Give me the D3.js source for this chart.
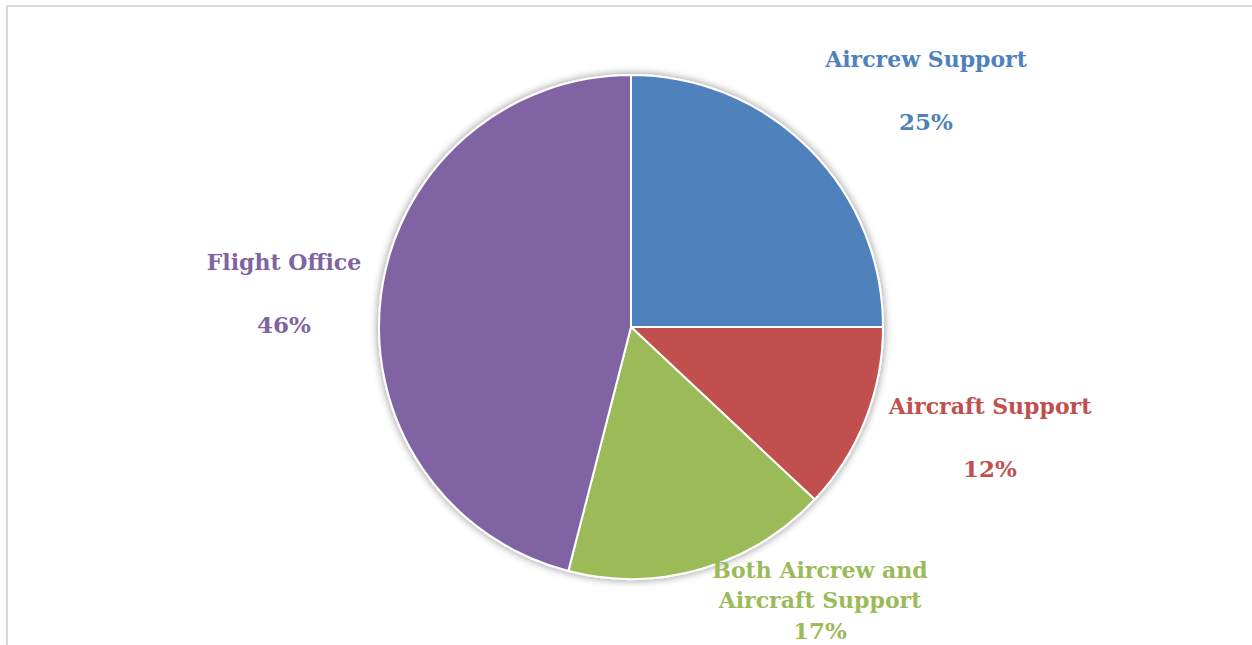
<!DOCTYPE html>
<html>
<head>
<meta charset="utf-8">
<script src="https://cdn.jsdelivr.net/npm/d3@7"></script>
<style>
  html, body { margin: 0; padding: 0; background: #fff; }
  svg { display: block; }
</style>
</head>
<body>
<svg id="chart" width="1252" height="645"></svg>
<script>
// Share of responses by support category
const categories = ["Aircrew Support", "Aircraft Support", "Both Aircrew and Aircraft Support", "Flight Office"];
const shares = [25, 12, 17, 46];
const colors = ["#4F81BD", "#C0504D", "#9BBB59", "#8064A2"];

// Label layout: text lines and their offsets from the pie centre
const labelLines = [["Aircrew Support"], ["Aircraft Support"], ["Both Aircrew and", "Aircraft Support"], ["Flight Office"]];
const labelAnchors = [[295, -260], [359, 87], [189, 251], [-347, -57]];
const pctGap = [63, 63, 31, 63];

const W = 1252, H = 645;
const cx = 631, cy = 327, R = 252;

const svg = d3.select("#chart");

// Chart-area frame (top and left edges visible)
svg.append("path")
  .attr("d", `M7,${H} L7,6 L${W},6`)
  .attr("fill", "none")
  .attr("stroke", "#d9d9d9")
  .attr("stroke-width", 2);

const defs = svg.append("defs");
const f = defs.append("filter").attr("id", "glow")
  .attr("x", "-20%").attr("y", "-20%").attr("width", "140%").attr("height", "140%");
f.append("feGaussianBlur").attr("in", "SourceAlpha").attr("stdDeviation", 4).attr("result", "b");
f.append("feComponentTransfer").attr("in", "b").attr("result", "s")
  .append("feFuncA").attr("type", "linear").attr("slope", 0.45);
const m = f.append("feMerge");
m.append("feMergeNode").attr("in", "s");
m.append("feMergeNode").attr("in", "SourceGraphic");

const pie = d3.pie().sort(null).value(d => d)(shares);
const arc = d3.arc().innerRadius(0).outerRadius(R);
const color = d3.scaleOrdinal().domain(categories).range(colors);

const g = svg.append("g").attr("transform", `translate(${cx},${cy})`);

g.append("g").attr("filter", "url(#glow)")
  .selectAll("path")
  .data(pie)
  .join("path")
  .attr("d", arc)
  .attr("fill", (d, i) => color(categories[i]))
  .attr("stroke", "#fff")
  .attr("stroke-width", 2)
  .attr("stroke-linejoin", "round");

const fmt = d3.format(".0%");
const font = "'DejaVu Serif', 'Liberation Serif', serif";

pie.forEach((d, i) => {
  const [ax, ay] = labelAnchors[i];
  const t = g.append("text")
    .attr("text-anchor", "middle")
    .attr("font-family", font)
    .attr("font-weight", "bold")
    .attr("font-size", 22)
    .attr("fill", color(categories[i]));
  const lines = labelLines[i];
  lines.forEach((ln, j) => {
    t.append("tspan").attr("x", ax).attr("y", ay + j * 30).text(ln);
  });
  t.append("tspan")
    .attr("x", ax)
    .attr("y", ay + (lines.length - 1) * 30 + pctGap[i])
    .attr("font-size", 23)
    .text(fmt(d.data / 100));
});
</script>
</body>
</html>
